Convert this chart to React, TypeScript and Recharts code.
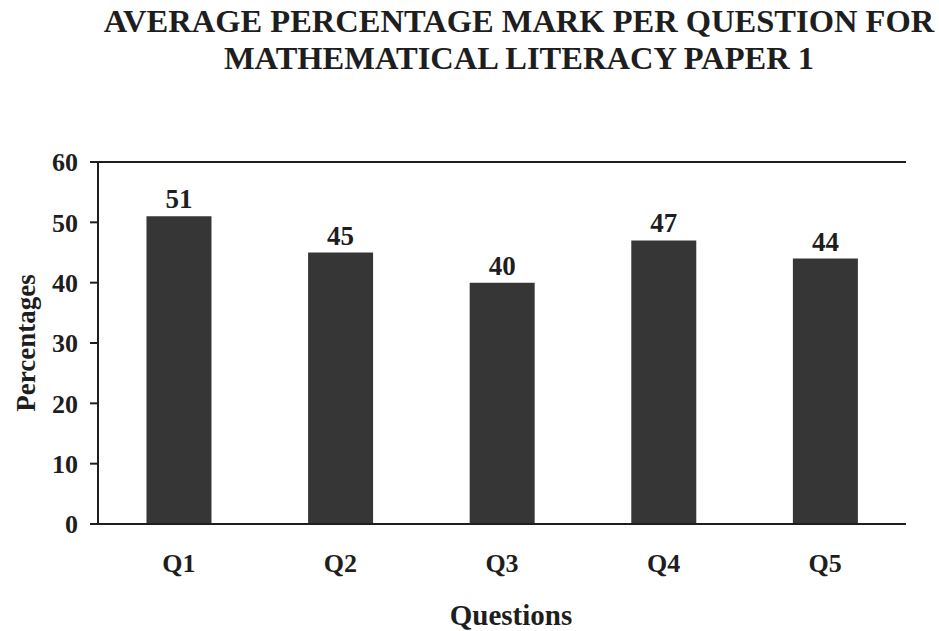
import React from 'react';
import { BarChart, Bar, XAxis, YAxis, CartesianGrid, LabelList } from 'recharts';

const questions = ['Q1', 'Q2', 'Q3', 'Q4', 'Q5'];
const averages = [51, 45, 40, 47, 44];
const yTicks = [0, 10, 20, 30, 40, 50, 60];

const data = questions.map((q, i) => ({ question: q, value: averages[i] }));

const serif = '"Liberation Serif", "Times New Roman", serif';
const ink = '#1e1e1e';

const App: React.FC = () => {
  return (
    <div style={{ position: 'relative', width: 939, height: 631, background: '#fff', fontFamily: serif }}>
      <style>{`body { margin: 0; }`}</style>
      <div
        style={{
          position: 'absolute',
          top: 3,
          left: 0,
          width: 1038,
          textAlign: 'center',
          fontSize: 32.5,
          fontWeight: 'bold',
          lineHeight: '37px',
          color: ink,
        }}
      >
        AVERAGE PERCENTAGE MARK PER QUESTION FOR
        <br />
        MATHEMATICAL LITERACY PAPER 1
      </div>
      <BarChart
        width={939}
        height={631}
        data={data}
        margin={{ top: 162, right: 33, left: 0, bottom: 0 }}
        barCategoryGap="30%"
      >
        <CartesianGrid horizontal vertical={false} stroke={ink} strokeWidth={2} />
        <XAxis
          dataKey="question"
          height={107}
          axisLine={{ stroke: ink, strokeWidth: 2 }}
          tickLine={false}
          tickSize={0}
          tickMargin={30}
          tick={{ fill: ink, fontSize: 26, fontWeight: 'bold', fontFamily: serif }}
          label={{
            value: 'Questions',
            position: 'insideBottom',
            offset: 6,
            dx: 9,
            style: { fill: ink, fontSize: 29, fontWeight: 'bold', fontFamily: serif },
          }}
        />
        <YAxis
          yAxisId="left"
          width={98}
          domain={[0, 60]}
          ticks={yTicks}
          interval={0}
          axisLine={{ stroke: ink, strokeWidth: 2 }}
          tickLine={{ stroke: ink, strokeWidth: 2 }}
          tickSize={8}
          tickMargin={12}
          tick={{ fill: ink, fontSize: 26, fontWeight: 'bold', fontFamily: serif }}
          label={{
            value: 'Percentages',
            angle: -90,
            position: 'insideLeft',
            offset: 25,
            style: { textAnchor: 'middle', fill: ink, fontSize: 27, fontWeight: 'bold', fontFamily: serif },
          }}
        />
        <YAxis
          yAxisId="right"
          orientation="right"
          width={0}
          domain={[0, 60]}
          ticks={yTicks}
          tick={false}
          tickLine={false}
          axisLine={{ stroke: ink, strokeWidth: 2 }}
        />
        <Bar yAxisId="left" dataKey="value" fill="#363636" isAnimationActive={false}>
          <LabelList
            dataKey="value"
            position="top"
            offset={8}
            style={{ fill: ink, fontSize: 27, fontWeight: 'bold', fontFamily: serif }}
          />
        </Bar>
      </BarChart>
    </div>
  );
};

export default App;
